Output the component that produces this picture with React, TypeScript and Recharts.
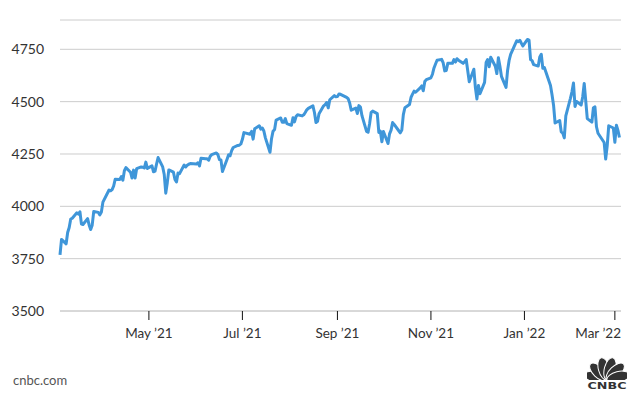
import React from "react";
import { LineChart, Line, XAxis, YAxis, CartesianGrid } from "recharts";

// trading days, S&P 500 close (1 year view)
const dates: string[] = [
  "2021-03-04", "2021-03-05", "2021-03-08", "2021-03-09", "2021-03-10", "2021-03-11", "2021-03-12",
  "2021-03-15", "2021-03-16", "2021-03-17", "2021-03-18", "2021-03-19", "2021-03-22", "2021-03-23",
  "2021-03-24", "2021-03-25", "2021-03-26", "2021-03-29", "2021-03-30", "2021-03-31", "2021-04-01",
  "2021-04-05", "2021-04-06", "2021-04-07", "2021-04-08", "2021-04-09", "2021-04-12", "2021-04-13",
  "2021-04-14", "2021-04-15", "2021-04-16", "2021-04-19", "2021-04-20", "2021-04-21", "2021-04-22",
  "2021-04-23", "2021-04-26", "2021-04-27", "2021-04-28", "2021-04-29", "2021-04-30", "2021-05-03",
  "2021-05-04", "2021-05-05", "2021-05-06", "2021-05-07", "2021-05-10", "2021-05-11", "2021-05-12",
  "2021-05-13", "2021-05-14", "2021-05-17", "2021-05-18", "2021-05-19", "2021-05-20", "2021-05-21",
  "2021-05-24", "2021-05-25", "2021-05-26", "2021-05-27", "2021-05-28", "2021-06-01", "2021-06-02",
  "2021-06-03", "2021-06-04", "2021-06-07", "2021-06-08", "2021-06-09", "2021-06-10", "2021-06-11",
  "2021-06-14", "2021-06-15", "2021-06-16", "2021-06-17", "2021-06-18", "2021-06-21", "2021-06-22",
  "2021-06-23", "2021-06-24", "2021-06-25", "2021-06-28", "2021-06-29", "2021-06-30", "2021-07-01",
  "2021-07-02", "2021-07-06", "2021-07-07", "2021-07-08", "2021-07-09", "2021-07-12", "2021-07-13",
  "2021-07-14", "2021-07-15", "2021-07-16", "2021-07-19", "2021-07-20", "2021-07-21", "2021-07-22",
  "2021-07-23", "2021-07-26", "2021-07-27", "2021-07-28", "2021-07-29", "2021-07-30", "2021-08-02",
  "2021-08-03", "2021-08-04", "2021-08-05", "2021-08-06", "2021-08-09", "2021-08-10", "2021-08-11",
  "2021-08-12", "2021-08-13", "2021-08-16", "2021-08-17", "2021-08-18", "2021-08-19", "2021-08-20",
  "2021-08-23", "2021-08-24", "2021-08-25", "2021-08-26", "2021-08-27", "2021-08-30", "2021-08-31",
  "2021-09-01", "2021-09-02", "2021-09-03", "2021-09-07", "2021-09-08", "2021-09-09", "2021-09-10",
  "2021-09-13", "2021-09-14", "2021-09-15", "2021-09-16", "2021-09-17", "2021-09-20", "2021-09-21",
  "2021-09-22", "2021-09-23", "2021-09-24", "2021-09-27", "2021-09-28", "2021-09-29", "2021-09-30",
  "2021-10-01", "2021-10-04", "2021-10-05", "2021-10-06", "2021-10-07", "2021-10-08", "2021-10-11",
  "2021-10-12", "2021-10-13", "2021-10-14", "2021-10-15", "2021-10-18", "2021-10-19", "2021-10-20",
  "2021-10-21", "2021-10-22", "2021-10-25", "2021-10-26", "2021-10-27", "2021-10-28", "2021-10-29",
  "2021-11-01", "2021-11-02", "2021-11-03", "2021-11-04", "2021-11-05", "2021-11-08", "2021-11-09",
  "2021-11-10", "2021-11-11", "2021-11-12", "2021-11-15", "2021-11-16", "2021-11-17", "2021-11-18",
  "2021-11-19", "2021-11-22", "2021-11-23", "2021-11-24", "2021-11-26", "2021-11-29", "2021-11-30",
  "2021-12-01", "2021-12-02", "2021-12-03", "2021-12-06", "2021-12-07", "2021-12-08", "2021-12-09",
  "2021-12-10", "2021-12-13", "2021-12-14", "2021-12-15", "2021-12-16", "2021-12-17", "2021-12-20",
  "2021-12-21", "2021-12-22", "2021-12-23", "2021-12-27", "2021-12-28", "2021-12-29", "2021-12-30",
  "2021-12-31", "2022-01-03", "2022-01-04", "2022-01-05", "2022-01-06", "2022-01-07", "2022-01-10",
  "2022-01-11", "2022-01-12", "2022-01-13", "2022-01-14", "2022-01-18", "2022-01-19", "2022-01-20",
  "2022-01-21", "2022-01-24", "2022-01-25", "2022-01-26", "2022-01-27", "2022-01-28", "2022-01-31",
  "2022-02-01", "2022-02-02", "2022-02-03", "2022-02-04", "2022-02-07", "2022-02-08", "2022-02-09",
  "2022-02-10", "2022-02-11", "2022-02-14", "2022-02-15", "2022-02-16", "2022-02-17", "2022-02-18",
  "2022-02-22", "2022-02-23", "2022-02-24", "2022-02-25", "2022-02-28", "2022-03-01", "2022-03-02",
  "2022-03-03", "2022-03-04",
];

const closes: number[] = [
  3768, 3842, 3821, 3875, 3899, 3939, 3943,
  3969, 3963, 3974, 3915, 3913, 3941, 3911,
  3889, 3910, 3975, 3971, 3959, 3973, 4020,
  4078, 4074, 4080, 4097, 4129, 4128, 4142,
  4125, 4170, 4185, 4163, 4135, 4173, 4135,
  4180, 4188, 4187, 4183, 4211, 4181, 4193,
  4165, 4168, 4202, 4233, 4188, 4152, 4063,
  4113, 4174, 4163, 4128, 4116, 4159, 4156,
  4197, 4188, 4196, 4201, 4204, 4202, 4208,
  4193, 4230, 4227, 4227, 4220, 4239, 4247,
  4255, 4247, 4224, 4222, 4166, 4225, 4246,
  4242, 4266, 4281, 4291, 4292, 4298, 4320,
  4352, 4344, 4358, 4321, 4370, 4385, 4369,
  4374, 4360, 4327, 4258, 4323, 4359, 4367,
  4412, 4422, 4401, 4401, 4419, 4395, 4387,
  4423, 4403, 4429, 4437, 4432, 4437, 4448,
  4461, 4468, 4480, 4448, 4400, 4406, 4442,
  4480, 4486, 4496, 4470, 4509, 4529, 4523,
  4524, 4537, 4535, 4520, 4514, 4493, 4459,
  4469, 4443, 4481, 4474, 4433, 4358, 4354,
  4396, 4449, 4455, 4443, 4353, 4359, 4308,
  4357, 4300, 4346, 4364, 4400, 4391, 4361,
  4351, 4364, 4438, 4471, 4486, 4520, 4536,
  4550, 4545, 4566, 4575, 4552, 4596, 4605,
  4614, 4631, 4661, 4680, 4698, 4702, 4685,
  4647, 4649, 4683, 4683, 4701, 4689, 4705,
  4698, 4683, 4691, 4701, 4595, 4655, 4567,
  4513, 4577, 4538, 4592, 4687, 4701, 4667,
  4712, 4669, 4634, 4710, 4669, 4621, 4568,
  4649, 4697, 4726, 4791, 4786, 4793, 4779,
  4766, 4797, 4794, 4701, 4696, 4677, 4670,
  4713, 4726, 4659, 4663, 4577, 4533, 4483,
  4398, 4410, 4356, 4350, 4327, 4432, 4516,
  4547, 4589, 4477, 4501, 4484, 4522, 4587,
  4504, 4419, 4402, 4471, 4475, 4380, 4349,
  4305, 4226, 4289, 4385, 4374, 4306, 4387,
  4363, 4329,
];

const yTicks = [3500, 3750, 4000, 4250, 4500, 4750];
const xTickDates = ["2021-05-01", "2021-07-01", "2021-09-01", "2021-11-01", "2022-01-01", "2022-03-01"];
const xTickLabels = ["May ’21", "Jul ’21", "Sep ’21", "Nov ’21", "Jan ’22", "Mar ’22"];

const toTime = (d: string) => Date.parse(d + "T00:00:00Z");

const data = dates.map((d, i) => ({ t: toTime(d), close: closes[i] }));
const xTicks = xTickDates.map(toTime);

const FONT = "Lato, 'Open Sans', sans-serif";
const RIGHT_EDGE = 621;

// keeps the last label inside the plot, like the original
const XTick = (props: any) => {
  const { x, y, payload } = props;
  const label = xTickLabels[xTicks.indexOf(payload.value)] ?? "";
  const nearEnd = x + 24 > RIGHT_EDGE;
  return (
    <text
      x={nearEnd ? RIGHT_EDGE : x}
      y={y}
      dy="0.71em"
      textAnchor={nearEnd ? "end" : "middle"}
      fill="#333"
      fontSize={13.5}
      fontFamily={FONT}
    >
      {label}
    </text>
  );
};

const Logo = () => {
  const feathers = [-76, -46, -15, 15, 46, 76];
  return (
    <svg width={40} height={32} viewBox="0 0 40 32">
      <g transform="translate(20,23)">
        {feathers.map((a) => (
          <ellipse
            key={a}
            cx={0}
            cy={-11.5}
            rx={5.6}
            ry={11.5}
            fill="#333"
            stroke="#fff"
            strokeWidth={1}
            transform={`rotate(${a})`}
          />
        ))}
      </g>
      <rect x={0} y={23} width={40} height={9} fill="#fff" />
      <text
        x={0.5}
        y={31.5}
        textLength={39}
        lengthAdjust="spacingAndGlyphs"
        fontFamily="'DejaVu Sans', sans-serif"
        fontWeight="bold"
        fontSize={9}
        fill="#333"
      >
        CNBC
      </text>
    </svg>
  );
};

export default function App() {
  return (
    <div style={{ position: "absolute", left: 0, top: 0, width: 635, height: 397, background: "#fff" }}>
      <LineChart width={635} height={397} data={data} margin={{ top: 20, right: 14, bottom: 56, left: 0 }}>
        <CartesianGrid vertical={false} stroke="#cccccc" />
        <XAxis
          dataKey="t"
          type="number"
          scale="time"
          domain={[toTime("2021-03-04"), toTime("2022-03-05")]}
          ticks={xTicks}
          height={30}
          axisLine={{ stroke: "#cccccc" }}
          tickLine={{ stroke: "#111" }}
          tickSize={9}
          tickMargin={8}
          tick={<XTick />}
          interval={0}
        />
        <YAxis
          type="number"
          domain={[3500, 4890]}
          ticks={yTicks}
          width={60}
          axisLine={false}
          tickLine={false}
          tickSize={0}
          tickMargin={16}
          tick={{ fill: "#333", fontSize: 14, fontFamily: FONT }}
        />
        <Line
          type="linear"
          dataKey="close"
          stroke="#3f96d9"
          strokeWidth={3}
          strokeLinejoin="round"
          dot={false}
          isAnimationActive={false}
        />
      </LineChart>
      <div style={{ position: "absolute", left: 13, top: 372, fontFamily: FONT, fontSize: 13, color: "#555" }}>
        cnbc.com
      </div>
      <div style={{ position: "absolute", left: 587, top: 357 }}>
        <Logo />
      </div>
    </div>
  );
}
